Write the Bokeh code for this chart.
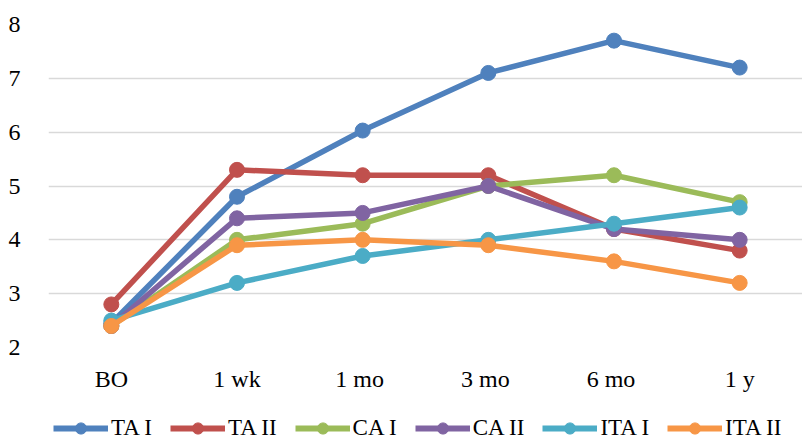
from bokeh.plotting import figure
from bokeh.layouts import column
from bokeh.models import Legend, LegendItem, FactorRange, FixedTicker
from bokeh.embed import file_html
from bokeh.resources import INLINE

# Time points and score series
timepoints = ["BO", "1 wk", "1  mo", "3  mo", "6  mo", "1 y"]
ta_1 = [2.45, 4.8, 6.03, 7.1, 7.7, 7.2]
ta_2 = [2.8, 5.3, 5.2, 5.2, 4.2, 3.8]
ca_1 = [2.4, 4.0, 4.3, 5.0, 5.2, 4.7]
ca_2 = [2.4, 4.4, 4.5, 5.0, 4.2, 4.0]
ita_1 = [2.5, 3.2, 3.7, 4.0, 4.3, 4.6]
ita_2 = [2.4, 3.9, 4.0, 3.9, 3.6, 3.2]
y_ticks = [2, 3, 4, 5, 6, 7, 8]

series = [
    ("TA I", ta_1, "#4F81BD"),
    ("TA II", ta_2, "#C0504D"),
    ("CA I", ca_1, "#9BBB59"),
    ("CA II", ca_2, "#8064A2"),
    ("ITA I", ita_1, "#4BACC6"),
    ("ITA II", ita_2, "#F79646"),
]

FONT = "Liberation Serif"

# Main chart
p = figure(
    x_range=FactorRange(*timepoints, range_padding=0),
    y_range=(2, 8),
    width=802, height=405,
    min_border_left=48, min_border_right=0, min_border_top=24, min_border_bottom=58,
    output_backend="svg", toolbar_location=None,
    background_fill_color="white", border_fill_color="white",
)
p.outline_line_color = None

p.xgrid.grid_line_color = None
p.ygrid.grid_line_color = "#D9D9D9"
p.ygrid.grid_line_width = 1.5

p.yaxis.ticker = FixedTicker(ticks=y_ticks)
for ax in (p.xaxis, p.yaxis):
    ax.axis_line_color = None
    ax.major_tick_line_color = None
    ax.minor_tick_line_color = None
    ax.major_label_text_font = FONT
    ax.major_label_text_font_size = "24px"
    ax.major_label_text_color = "#000000"
p.yaxis.major_label_standoff = 22
p.xaxis.major_label_standoff = 12

for name, vals, color in series:
    p.line(timepoints, vals, line_color=color, line_width=5.5,
           line_join="round", line_cap="round")
    p.scatter(timepoints, vals, size=15, fill_color=color, line_color=color)

# Legend strip underneath the chart: same series, plotted out of view so
# only their legend entries show
lg = figure(
    x_range=FactorRange(*timepoints), y_range=(100, 101),
    x_axis_type=None, y_axis_type=None,
    width=802, height=37, min_border=0,
    output_backend="svg", toolbar_location=None,
    background_fill_color="white", border_fill_color="white",
)
lg.outline_line_color = None
lg.grid.visible = False

items = []
for name, vals, color in series:
    k1 = lg.line(timepoints, vals, line_color=color, line_width=6)
    k2 = lg.scatter(timepoints, vals, size=12, fill_color=color, line_color=color)
    items.append(LegendItem(label=name, renderers=[k1, k2]))

legend = Legend(
    items=items, orientation="horizontal", location=(5, 0),
    label_text_font=FONT, label_text_font_size="23px", label_text_color="#000000",
    glyph_width=55, glyph_height=28, label_standoff=3, spacing=18,
    padding=0, margin=0, border_line_color=None, background_fill_alpha=0,
)
lg.add_layout(legend, "center")

open("out.html", "w").write(file_html(column(p, lg, spacing=0), INLINE))
